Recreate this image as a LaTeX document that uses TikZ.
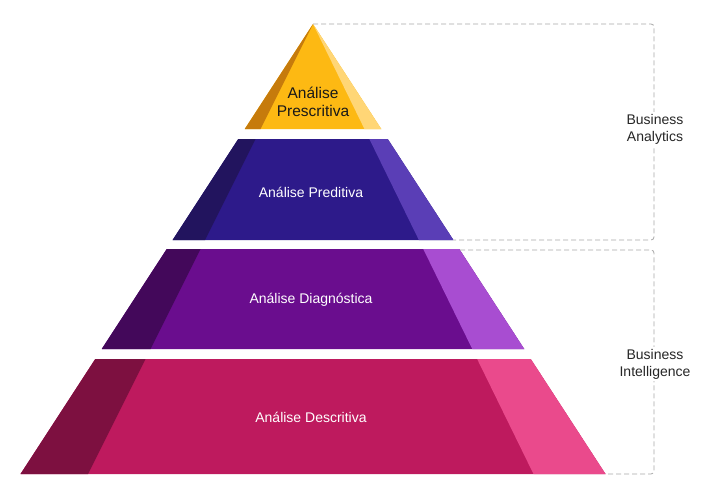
\documentclass[tikz,border=0pt]{standalone}
\usepackage{fontspec}
\setmainfont{Liberation Sans}

\definecolor{goldMain}{HTML}{FDB913}
\definecolor{goldDark}{HTML}{C67B0C}
\definecolor{goldLight}{HTML}{FFD676}
\definecolor{indigoMain}{HTML}{2D1A8A}
\definecolor{indigoDark}{HTML}{22145E}
\definecolor{indigoLight}{HTML}{5A3EB6}
\definecolor{violetMain}{HTML}{6A0D8E}
\definecolor{violetDark}{HTML}{43085A}
\definecolor{violetLight}{HTML}{A84DD1}
\definecolor{roseMain}{HTML}{BE1A5E}
\definecolor{roseDark}{HTML}{7D1040}
\definecolor{roseLight}{HTML}{EA4A8C}
\definecolor{bracketGray}{HTML}{A8A8A8}
\definecolor{labelInk}{HTML}{262626}

% One band of the pyramid between heights #1 (top) and #2 (bottom):
% main face #3, shaded left facet #4, lit right facet #5; corners named #6-*.
\newcommand\pyrband[6]{%
  \pgfmathsetmacro\tOL{313-0.65*(#1-24)}%
  \pgfmathsetmacro\tOR{313+0.65*(#1-24)}%
  \pgfmathsetmacro\bOL{313-0.65*(#2-24)}%
  \pgfmathsetmacro\bOR{313+0.65*(#2-24)}%
  \pgfmathsetmacro\tDL{313-0.50*(#1-24)}%
  \pgfmathsetmacro\bDL{313-0.50*(#2-24)}%
  \pgfmathsetmacro\tLR{313+0.49*(#1-24)}%
  \pgfmathsetmacro\bLR{313+0.49*(#2-24)}%
  \fill[#3] (\tOL,#1) -- (\tOR,#1) -- (\bOR,#2) -- (\bOL,#2) -- cycle;
  \fill[#4] (\tOL,#1) -- (\tDL,#1) -- (\bDL,#2) -- (\bOL,#2) -- cycle;
  \fill[#5] (\tLR,#1) -- (\tOR,#1) -- (\bOR,#2) -- (\bLR,#2) -- cycle;
  \coordinate (#6-tr) at (\tOR,#1);
  \coordinate (#6-br) at (\bOR,#2);
}

\begin{document}
\begin{tikzpicture}[x=1pt,y=-1pt,
  bandtext/.style={font=\fontsize{14}{17}\selectfont, align=center, inner sep=0pt},
  bracket/.style={draw=bracketGray, line width=0.8pt, dash pattern=on 5pt off 3pt, rounded corners=3pt},
  bracketlabel/.style={font=\fontsize{14}{17}\selectfont, align=center, text=labelInk, fill=white, inner sep=2pt}]
\useasboundingbox (0,0) rectangle (702,495);
\fill[white] (0,0) rectangle (702,495);

% pyramid bands, top to bottom
\pyrband{24}{129}{goldMain}{goldDark}{goldLight}{top}
\pyrband{139}{240}{indigoMain}{indigoDark}{indigoLight}{pred}
\pyrband{249}{349}{violetMain}{violetDark}{violetLight}{diag}
\pyrband{359}{474}{roseMain}{roseDark}{roseLight}{desc}

% band labels
\node[bandtext, font=\fontsize{15.5}{18}\selectfont, text=black!90] (presc) at (313,102) {Análise\\Prescritiva};
\node[bandtext, text=white] (predi) at (311,192) {Análise Preditiva};
\node[bandtext, text=white] (diagn) at (311,300) {Análise Diagnóstica};
\node[bandtext, text=white] (descr) at (311,417) {Análise Descritiva};

% grouping brackets
\coordinate (baTop) at (654,24);
\coordinate (baBot) at (654,240);
\coordinate (biTop) at (654,250);
\coordinate (biBot) at (654,474);
\draw[bracket] (top-tr) -- (baTop) -- (baBot) -- (pred-br);
\draw[bracket] (460,250) -- (biTop) -- (biBot) -- (desc-br);

\node[bracketlabel] (ba) at (655,129) {Business\\Analytics};
\node[bracketlabel] (bi) at (655,364) {Business\\Intelligence};
\end{tikzpicture}
\end{document}
